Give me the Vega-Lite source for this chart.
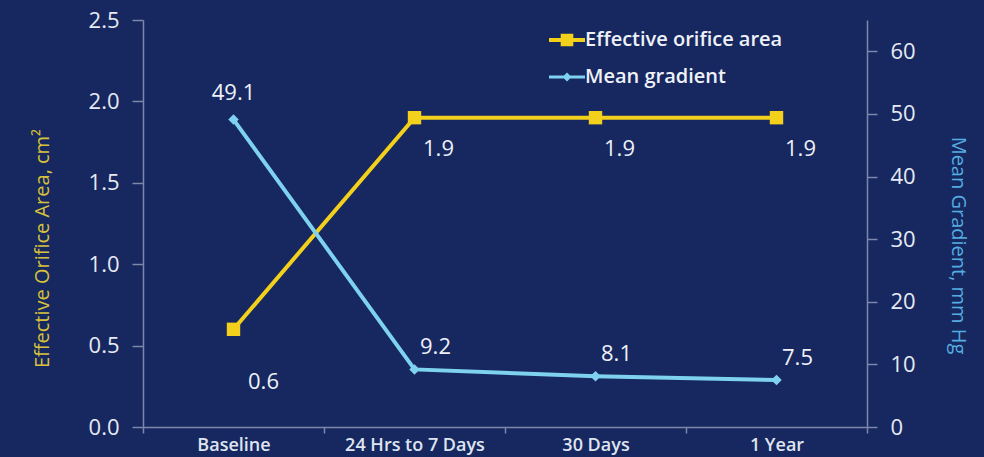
{
  "$schema": "https://vega.github.io/schema/vega-lite/v6.json",
  "width": 724,
  "height": 407,
  "autosize": {"type": "none"},
  "padding": {"left": 143, "top": 20, "right": 117, "bottom": 30},
  "background": "#16285f",
  "config": {
    "view": {"stroke": null},
    "font": "Open Sans",
    "axis": {"domainColor": "#7d87aa", "tickColor": "#7d87aa", "labelColor": "#e6eaf4", "grid": false, "domainWidth": 1.5, "tickWidth": 1.5}
  },
  "data": {
    "values": [
      {"time": "Baseline", "series": "Effective orifice area", "value": 0.6},
      {"time": "24 Hrs to 7 Days", "series": "Effective orifice area", "value": 1.9},
      {"time": "30 Days", "series": "Effective orifice area", "value": 1.9},
      {"time": "1 Year", "series": "Effective orifice area", "value": 1.9},
      {"time": "Baseline", "series": "Mean gradient", "value": 49.1},
      {"time": "24 Hrs to 7 Days", "series": "Mean gradient", "value": 9.2},
      {"time": "30 Days", "series": "Mean gradient", "value": 8.1},
      {"time": "1 Year", "series": "Mean gradient", "value": 7.5}
    ]
  },
  "encoding": {
    "x": {
      "field": "time",
      "type": "nominal",
      "sort": ["Baseline", "24 Hrs to 7 Days", "30 Days", "1 Year"],
      "bandPosition": 0.5,
      "scale": {"type": "band", "paddingInner": 0, "paddingOuter": 0},
      "axis": {"title": null, "labelAngle": 0, "labelFontSize": 18, "labelFontWeight": 600, "labelColor": "#dfe4f0", "tickBand": "extent", "tickSize": 6, "labelPadding": 3}
    }
  },
  "layer": [
    {
      "transform": [{"filter": "datum.series == 'Effective orifice area'"}],
      "encoding": {
        "y": {
          "field": "value",
          "type": "quantitative",
          "scale": {"domain": [0, 2.5]},
          "axis": {
            "orient": "left",
            "values": [0, 0.5, 1, 1.5, 2, 2.5],
            "format": ".1f",
            "title": "Effective Orifice Area, cm²",
            "titleColor": "#d8c13b",
            "titleFontSize": 20,
            "titleFontWeight": "normal",
            "titlePadding": 36,
            "titleY": 228,
            "labelFontSize": 22,
            "labelPadding": 13,
            "tickSize": 11
          }
        }
      },
      "layer": [
        {
          "mark": {"type": "line", "strokeWidth": 4, "point": {"shape": "square", "size": 180, "filled": true, "opacity": 1}},
          "encoding": {
            "color": {
              "field": "series",
              "type": "nominal",
              "scale": {"domain": ["Effective orifice area", "Mean gradient"], "range": ["#f3d01c", "#7ed2f0"]},
              "legend": {
                "title": null,
                "orient": "none",
                "legendX": 406,
                "legendY": 2,
                "symbolSize": 1296,
                "rowPadding": 9,
                "labelOffset": 0,
                "labelLimit": 0,
                "labelFontSize": 20,
                "labelFontWeight": 600,
                "labelColor": "#eef1f8",
                "encode": {
                  "symbols": {
                    "update": {
                      "shape": {"signal": "datum.value == 'Effective orifice area' ? 'M-1,-0.11H1V0.11H-1Z M-0.35,-0.35H0.35V0.35H-0.35Z' : 'M-1,-0.08H1V0.08H-1Z M0,-0.25L0.25,0L0,0.25L-0.25,0Z'"},
                      "fill": {"signal": "datum.value == 'Effective orifice area' ? '#f3d01c' : '#7ed2f0'"},
                      "strokeWidth": {"value": 0},
                      "opacity": {"value": 1}
                    }
                  }
                }
              }
            }
          }
        },
        {
          "transform": [{"filter": "datum.time == 'Baseline'"}],
          "mark": {"type": "text", "dx": 30, "dy": 53, "fontSize": 22, "color": "#eef1f8"},
          "encoding": {"text": {"field": "value", "type": "quantitative", "format": ".1f"}}
        },
        {
          "transform": [{"filter": "datum.time != 'Baseline'"}],
          "mark": {"type": "text", "dx": 24, "dy": 31, "fontSize": 22, "color": "#eef1f8"},
          "encoding": {"text": {"field": "value", "type": "quantitative", "format": ".1f"}}
        }
      ]
    },
    {
      "transform": [{"filter": "datum.series == 'Mean gradient'"}],
      "encoding": {
        "y": {
          "field": "value",
          "type": "quantitative",
          "scale": {"domain": [0, 65]},
          "axis": {
            "orient": "right",
            "values": [0, 10, 20, 30, 40, 50, 60],
            "title": "Mean Gradient, mm Hg",
            "titleColor": "#55ace0",
            "titleFontSize": 20,
            "titleFontWeight": "normal",
            "titlePadding": 32,
            "titleY": 225,
            "labelFontSize": 22,
            "labelPadding": 13,
            "tickSize": 10
          }
        }
      },
      "layer": [
        {
          "mark": {"type": "line", "strokeWidth": 4, "point": {"shape": "diamond", "size": 110, "filled": true, "opacity": 1}},
          "encoding": {
            "color": {
              "field": "series",
              "type": "nominal",
              "scale": {"domain": ["Effective orifice area", "Mean gradient"], "range": ["#f3d01c", "#7ed2f0"]}
            }
          }
        },
        {
          "transform": [{"filter": "datum.time == 'Baseline'"}],
          "mark": {"type": "text", "dx": 0, "dy": -27, "fontSize": 22, "color": "#eef1f8"},
          "encoding": {"text": {"field": "value", "type": "quantitative", "format": ".1f"}}
        },
        {
          "transform": [{"filter": "datum.time != 'Baseline'"}],
          "mark": {"type": "text", "dx": 21, "dy": -22, "fontSize": 22, "color": "#eef1f8"},
          "encoding": {"text": {"field": "value", "type": "quantitative", "format": ".1f"}}
        }
      ]
    }
  ],
  "resolve": {"scale": {"y": "independent"}}
}
